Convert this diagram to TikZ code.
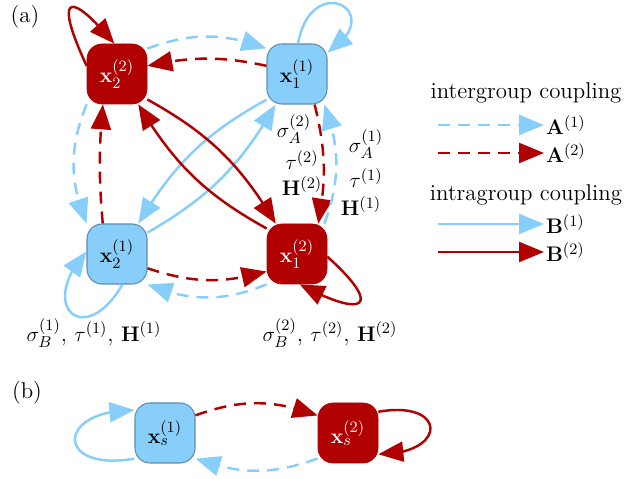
\documentclass[tikz,border=0pt]{standalone}
\usepackage{xcolor}
\usepackage{tikz}
\usetikzlibrary{arrows.meta,bending}
\definecolor{sky}{HTML}{87CEFA}
\definecolor{skyedge}{HTML}{5E8CAE}
\definecolor{wine}{HTML}{B00000}
\tikzset{
  grp/.style={rounded corners=3mm, minimum width=12mm, minimum height=12mm, inner sep=0pt, font=\fontsize{13}{16}\selectfont},
  grpone/.style={grp, draw=skyedge, fill=sky, line width=0.6pt},
  grptwo/.style={grp, draw=wine, fill=wine, text=white},
  tip/.style={-{Triangle[length=5mm,width=4mm]}, line width=1.4pt},
  inter1/.style={tip, draw=sky, dash pattern=on 2.4mm off 1.6mm},
  inter2/.style={tip, draw=wine, dash pattern=on 2.4mm off 1.6mm},
  intra1/.style={tip, draw=sky},
  intra2/.style={tip, draw=wine},
  lbl/.style={font=\fontsize{13}{16}\selectfont, inner sep=1pt},
}

\begin{document}
\begin{tikzpicture}[x=2mm,y=2mm]
  \useasboundingbox (0,0) rectangle (64.2,47.9);
  % (a) four groups
  \node[lbl] (pa) at (2.5,46.2) {(a)};
  \node[grptwo] (x22) at (11.7,40.5) {$\mathbf{x}_2^{(2)}$};
  \node[grpone] (x11) at (29.7,40.5) {$\mathbf{x}_1^{(1)}$};
  \node[grpone] (x21) at (11.7,22.5) {$\mathbf{x}_2^{(1)}$};
  \node[grptwo] (x12) at (29.7,22.5) {$\mathbf{x}_1^{(2)}$};

  % self loops
  \draw[intra2] (x22.165) to[out=115,in=130,distance=15mm] (x22.95);
  \draw[intra1] (x11.88) to[out=80,in=33,distance=15mm] (x11.35);
  \draw[intra1] (x21.-80) to[out=240,in=228,distance=15mm] (x21.175);
  \draw[intra2] (x12.-5) to[out=-42,in=-28,distance=15mm] (x12.-85);

  % intergroup
  \draw[inter1] (x22.40) to[bend left=20] (x11.140);
  \draw[inter2] (x11.165) to[bend right=12] (x22.15);
  \draw[inter1] (x22.-135) to[bend right=22] (x21.135);
  \draw[inter2] (x21.115) to[bend left=5] (x22.-115);
  \draw[inter2] (x11.-60) to[bend left=12] (x12.55);
  \draw[inter1] (x12.48) to[bend right=20] (x11.-48);
  \draw[inter2] (x21.-25) to[bend right=17] (x12.-150);
  \draw[inter1] (x12.-135) to[bend left=22] (x21.-45);

  % intragroup
  \draw[intra1] (x11.-140) to[bend right=15] (x21.55);
  \draw[intra1] (x21.35) to[bend right=15] (x11.-125);
  \draw[intra2] (x22.-40) to[bend left=15] (x12.125);
  \draw[intra2] (x12.140) to[bend left=15] (x22.-55);

  % parameters
  \node[lbl] (sa2) at (29.4,35.0) {$\sigma_A^{(2)}$};
  \node[lbl] (t2) at (30.2,31.9) {$\tau^{(2)}$};
  \node[lbl] (h2) at (30.2,29.3) {$\mathbf{H}^{(2)}$};
  \node[lbl] (sa1) at (36.6,33.5) {$\sigma_A^{(1)}$};
  \node[lbl] (t1) at (36.6,30.1) {$\tau^{(1)}$};
  \node[lbl] (h1) at (36.1,27.3) {$\mathbf{H}^{(1)}$};
  \node[lbl] (pb1) at (9.4,14.6) {$\sigma_B^{(1)}$, $\tau^{(1)}$, $\mathbf{H}^{(1)}$};
  \node[lbl] (pb2) at (33.0,14.6) {$\sigma_B^{(2)}$, $\tau^{(2)}$, $\mathbf{H}^{(2)}$};

  % legend
  \node[lbl] (leg1) at (52.6,38.6) {intergroup coupling};
  \node[lbl] (leg2) at (52.6,28.4) {intragroup coupling};
  \node[lbl, anchor=west] (la1) at (54.4,35.4) {$\mathbf{A}^{(1)}$};
  \node[lbl, anchor=west] (la2) at (54.4,32.6) {$\mathbf{A}^{(2)}$};
  \node[lbl, anchor=west] (lb1) at (54.4,25.5) {$\mathbf{B}^{(1)}$};
  \node[lbl, anchor=west] (lb2) at (54.4,22.7) {$\mathbf{B}^{(2)}$};
  \coordinate (la1s) at (43.8,35.4);
  \coordinate (la2s) at (43.8,32.6);
  \coordinate (lb1s) at (43.8,25.5);
  \coordinate (lb2s) at (43.8,22.7);
  \draw[inter1] (la1s) -- (la1.west);
  \draw[inter2] (la2s) -- (la2.west);
  \draw[intra1] (lb1s) -- (lb1.west);
  \draw[intra2] (lb2s) -- (lb2.west);

  % (b) two groups
  \node[lbl] (pb) at (2.7,8.6) {(b)};
  \node[grpone] (xs1) at (16.5,4.6) {$\mathbf{x}_s^{(1)}$};
  \node[grptwo] (xs2) at (34.8,4.6) {$\mathbf{x}_s^{(2)}$};
  \draw[inter2] (xs1.30) to[bend left=20] (xs2.150);
  \draw[inter1] (xs2.-140) to[bend left=20] (xs1.-40);
  \draw[intra1] (xs1.-140) to[out=190,in=180,distance=16mm] (xs1.143);
  \draw[intra2] (xs2.35) to[out=10,in=0,distance=14mm] (xs2.-35);
\end{tikzpicture}
\end{document}
